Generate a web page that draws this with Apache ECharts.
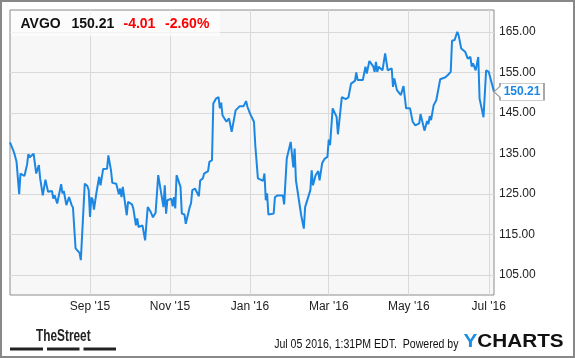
<!DOCTYPE html>
<html><head><meta charset="utf-8">
<script src="https://cdn.jsdelivr.net/npm/echarts@6/dist/echarts.min.js"></script>
<style>html,body{margin:0;padding:0;background:#fff}#c{width:575px;height:358px}</style>
</head><body><div id="c"></div><script>
const ticker = 'AVGO';
const lastPrice = 150.21;
const change = -4.01;
const changePct = -2.60;
const timestampText = 'Jul 05 2016, 1:31PM EDT.  Powered by';

const dates = ['2015-07-02','2015-07-05','2015-07-07','2015-07-09','2015-07-10','2015-07-13','2015-07-15','2015-07-16','2015-07-17','2015-07-20',
'2015-07-22','2015-07-24','2015-07-25','2015-07-27','2015-07-29','2015-07-30','2015-07-31','2015-08-03','2015-08-04','2015-08-05',
'2015-08-07','2015-08-10','2015-08-11','2015-08-12','2015-08-14','2015-08-16','2015-08-18','2015-08-19','2015-08-21','2015-08-24',
'2015-08-25','2015-08-28','2015-08-30','2015-08-31','2015-09-01','2015-09-02','2015-09-03','2015-09-04','2015-09-06','2015-09-08',
'2015-09-09','2015-09-11','2015-09-14','2015-09-15','2015-09-17','2015-09-18','2015-09-21','2015-09-23','2015-09-24','2015-09-25',
'2015-09-26','2015-09-29','2015-09-30','2015-10-01','2015-10-03','2015-10-04','2015-10-06','2015-10-07','2015-10-08','2015-10-11',
'2015-10-12','2015-10-13','2015-10-15','2015-10-17','2015-10-19','2015-10-21','2015-10-23','2015-10-27','2015-10-28','2015-10-29',
'2015-10-30','2015-11-02','2015-11-03','2015-11-04','2015-11-05','2015-11-06','2015-11-09','2015-11-10','2015-11-12','2015-11-13',
'2015-11-16','2015-11-17','2015-11-18','2015-11-20','2015-11-21','2015-11-23','2015-11-24','2015-11-26','2015-11-27','2015-11-30',
'2015-12-01','2015-12-03','2015-12-04','2015-12-06','2015-12-08','2015-12-09','2015-12-10','2015-12-11','2015-12-14','2015-12-16',
'2015-12-18','2015-12-21','2015-12-22','2015-12-24','2015-12-27','2015-12-29','2015-12-30','2016-01-01','2016-01-04','2016-01-05',
'2016-01-07','2016-01-11','2016-01-12','2016-01-13','2016-01-14','2016-01-15','2016-01-19','2016-01-20','2016-01-22','2016-01-26',
'2016-01-27','2016-01-29','2016-02-01','2016-02-03','2016-02-04','2016-02-05','2016-02-09','2016-02-10','2016-02-11','2016-02-12',
'2016-02-16','2016-02-17','2016-02-18','2016-02-20','2016-02-22','2016-02-23','2016-02-25','2016-02-27','2016-02-29','2016-03-01',
'2016-03-02','2016-03-03','2016-03-04','2016-03-07','2016-03-08','2016-03-11','2016-03-14','2016-03-16','2016-03-18','2016-03-21',
'2016-03-22','2016-03-23','2016-03-27','2016-03-29','2016-03-30','2016-04-01','2016-04-04','2016-04-05','2016-04-06','2016-04-07',
'2016-04-08','2016-04-11','2016-04-13','2016-04-15','2016-04-18','2016-04-19','2016-04-20','2016-04-22','2016-04-25','2016-04-27',
'2016-04-29','2016-05-02','2016-05-04','2016-05-06','2016-05-09','2016-05-10','2016-05-13','2016-05-15','2016-05-16','2016-05-17',
'2016-05-18','2016-05-20','2016-05-22','2016-05-25','2016-05-26','2016-05-29','2016-05-31','2016-06-02','2016-06-03','2016-06-05',
'2016-06-07','2016-06-08','2016-06-09','2016-06-10','2016-06-13','2016-06-15','2016-06-17','2016-06-18','2016-06-19','2016-06-21',
'2016-06-23','2016-06-24','2016-06-27','2016-06-29','2016-07-01','2016-07-05'];

const prices = [137.7,135.3,132.9,124.9,130.0,129.4,132.2,134.8,134.0,134.9,
130.0,132.1,128.8,124.6,128.5,128.3,125.5,125.7,123.8,124.6,
122.6,127.4,125.1,125.7,122.2,124.2,122.2,121.6,111.5,110.4,
108.6,127.5,126.9,125.9,119.3,124.1,123.6,121.1,125.5,129.2,
127.1,131.1,131.2,134.5,130.8,127.7,127.5,124.9,126.3,124.2,
126.7,119.7,123.0,123.4,122.4,121.4,117.2,118.9,116.8,117.2,
117.6,113.5,121.7,120.7,119.2,120.3,129.6,121.7,127.1,120.1,
123.4,123.8,121.9,124.2,121.4,129.6,126.7,120.1,119.9,117.6,
121.7,122.6,125.9,126.3,125.9,124.4,128.3,128.8,130.0,130.6,
132.9,133.3,147.3,148.5,148.9,146.1,147.5,144.4,142.8,143.6,
140.3,145.6,145.2,146.6,146.6,147.9,146.5,144.8,142.8,137.0,
128.8,128.2,130.0,123.4,125.1,119.9,120.1,124.2,124.6,124.6,
122.4,133.7,137.8,131.5,136.2,128.3,119.7,119.3,116.4,121.7,
125.9,130.8,127.1,129.6,130.6,128.3,132.6,133.7,134.1,138.4,
137.0,137.4,146.1,144.0,139.7,148.9,148.4,148.8,152.2,152.9,
155.0,153.1,153.1,156.4,154.7,157.8,156.4,155.1,157.6,155.1,
156.4,155.5,159.7,155.5,156.0,151.4,153.5,150.6,149.4,151.6,
146.1,146.1,142.8,141.9,142.4,144.7,140.6,143.0,142.2,144.2,
143.2,146.9,148.1,153.3,153.2,153.8,154.4,155.1,162.8,163.0,
165.0,164.2,164.4,160.9,160.1,158.4,158.8,156.4,157.2,155.5,
158.8,148.5,143.9,155.5,155.1,150.21];

const xTickDates = ['2015-09-01','2015-11-01','2016-01-01','2016-03-01','2016-05-01','2016-07-01'];
const xTickLabels = ["Sep '15","Nov '15","Jan '16","Mar '16","May '16","Jul '16"];
const yTickValues = [105,115,125,135,145,155,165];
const xRange = ['2015-07-02','2016-07-05'];
const yRange = [100,170.4];

function toTime(s){const p=s.split('-').map(Number);return Date.UTC(p[0],p[1]-1,p[2]);}
const xTicks = xTickDates.map(toTime);
const seriesData = dates.map((d,i)=>[toTime(d),prices[i]]);
const lastPoint = seriesData[seriesData.length-1];

const FF = '"Liberation Sans", Arial, sans-serif';
const BLUE = '#1b87e3';

const chart = echarts.init(document.getElementById('c'), null, {renderer:'canvas'});
chart.setOption({
  animation:false,
  backgroundColor:'#fff',
  grid:{left:10, top:10, right:81, bottom:63, show:true, backgroundColor:'#f7f7f7', borderColor:'#8c8c8c', borderWidth:1, containLabel:false, outerBoundsMode:'none'},
  xAxis:{
    type:'value', min:toTime(xRange[0]), max:toTime(xRange[1]),
    axisLine:{show:false},
    axisTick:{show:false, customValues:xTicks},
    axisLabel:{customValues:xTicks, margin:6, color:'#222', fontSize:12, fontFamily:FF, hideOverlap:false,
      formatter:function(v){let best=0,bd=Infinity;xTicks.forEach((t,i)=>{const d=Math.abs(t-v);if(d<bd){bd=d;best=i;}});return xTickLabels[best];}},
    splitLine:{show:true, lineStyle:{color:'#d9d9d9', width:1}}
  },
  yAxis:{
    type:'value', position:'right', min:yRange[0], max:yRange[1],
    axisLine:{show:false},
    axisTick:{show:false, customValues:yTickValues},
    axisLabel:{customValues:yTickValues, margin:5, color:'#222', fontSize:12, fontFamily:FF,
      formatter:function(v){return Number(v).toFixed(2);}},
    splitLine:{show:true, lineStyle:{color:'#d9d9d9', width:1}}
  },
  series:[{
    type:'line', data:seriesData, showSymbol:false, symbol:'none',
    lineStyle:{color:BLUE, width:2}, itemStyle:{color:BLUE},
    silent:true, z:3,
    markPoint:{
      silent:true,
      symbol:'path://M0,8.5L6,3L6,0L50,0L50,17L6,17L6,14Z',
      symbolSize:[50,17], symbolOffset:[25,0], symbolKeepAspect:false,
      itemStyle:{color:'#fff', borderColor:'#9a9a9a', borderWidth:1},
      label:{show:true, position:'inside', offset:[3,0], color:BLUE, fontWeight:'bold', fontSize:12, fontFamily:FF,
        formatter:function(){return lastPrice.toFixed(2);}},
      data:[{coord:lastPoint, value:lastPrice}]
    }
  }],
  graphic:{elements:[
    {type:'rect', z:10, shape:{x:11,y:11,width:209,height:25}, style:{fill:'rgba(255,255,255,0.65)'}},
    {type:'text', z:11, x:20.5, y:24.5, style:{text:ticker, font:'bold 14px '+FF, fill:'#111', textAlign:'left', align:'left', textVerticalAlign:'middle', verticalAlign:'middle'}},
    {type:'text', z:11, x:71.5, y:24.5, style:{text:lastPrice.toFixed(2), font:'bold 14px '+FF, fill:'#111', textAlign:'left', align:'left', textVerticalAlign:'middle', verticalAlign:'middle'}},
    {type:'text', z:11, x:123.5, y:24.5, style:{text:change.toFixed(2), font:'bold 14px '+FF, fill:'#f00', textAlign:'left', align:'left', textVerticalAlign:'middle', verticalAlign:'middle'}},
    {type:'text', z:11, x:165, y:24.5, style:{text:changePct.toFixed(2)+'%', font:'bold 14px '+FF, fill:'#f00', textAlign:'left', align:'left', textVerticalAlign:'middle', verticalAlign:'middle'}},
    {type:'text', z:11, x:36, y:336.5, scaleX:0.74, style:{text:'TheStreet', font:'bold 16px '+FF, fill:'#222', textAlign:'left', align:'left', textVerticalAlign:'middle', verticalAlign:'middle'}},
    {type:'rect', z:11, shape:{x:10,y:347.5,width:33,height:3}, style:{fill:'#222'}},
    {type:'rect', z:11, shape:{x:47,y:347.5,width:32.5,height:3}, style:{fill:'#222'}},
    {type:'rect', z:11, shape:{x:83.5,y:347.5,width:32.5,height:3}, style:{fill:'#222'}},
    {type:'text', z:11, x:458.5, y:345, scaleX:0.88, style:{text:timestampText, font:'12px '+FF, fill:'#111', textAlign:'right', align:'right', textVerticalAlign:'middle', verticalAlign:'middle'}},
    {type:'text', z:11, x:463.5, y:342, scaleX:1.12, style:{text:'{y|Y}{c|CHARTS}', textAlign:'left', align:'left', textVerticalAlign:'middle', verticalAlign:'middle',
      rich:{y:{fill:'#1a8fe3', font:'bold 18.5px '+FF}, c:{fill:'#111', font:'bold 18.5px '+FF}}}},
    {type:'rect', z:20, shape:{x:1,y:1,width:573,height:356}, style:{fill:'none', stroke:'#888', lineWidth:2}}
  ]}
});
</script></body></html>
